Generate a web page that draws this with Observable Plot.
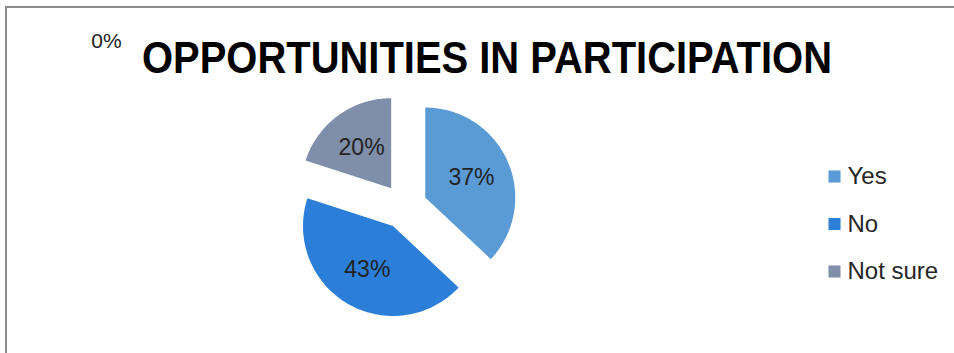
<!DOCTYPE html>
<html>
<head>
<meta charset="utf-8">
<script src="https://cdn.jsdelivr.net/npm/d3@7"></script>
<script src="https://cdn.jsdelivr.net/npm/@observablehq/plot@0.6"></script>
<style>
  html, body { margin: 0; padding: 0; background: #fff; }
  #wrap { position: relative; width: 954px; height: 353px; overflow: hidden; }
  #frame { position: absolute; left: 5px; top: 6px; right: -10px; bottom: -10px;
           border-left: 2px solid #8c8c8c; border-top: 2px solid #8c8c8c; }
  #chart { position: absolute; left: 0; top: 0; }
</style>
</head>
<body>
<div id="wrap"><div id="frame"></div><div id="chart"></div></div>
<script>
// ---- data ----
const categories = ["Yes", "No", "Not sure"];
const values = [37, 43, 20];
const colors = ["#5b9bd5", "#2b7fd8", "#7f8ea9"];
const pctLabels = ["37%", "43%", "20%"];
const titleText = "OPPORTUNITIES IN PARTICIPATION";
const strayLabel = "0%";

// ---- layout ----
const W = 954, H = 353;
const cx = 404, cy = 206, R = 90, explode = 22.6;

const data = categories.map((c, i) => ({key: c, value: values[i], label: pctLabels[i], i}));
const arcs = d3.pie().sort(null).value(d => d.value).startAngle(0).endAngle(2 * Math.PI)(data);

const slicePts = [];
const labelPts = [];
arcs.forEach(a => {
  const mid = (a.startAngle + a.endAngle) / 2;
  const ox = cx + explode * Math.sin(mid), oy = cy - explode * Math.cos(mid);
  slicePts.push({key: a.data.key, x: ox, y: oy});
  const n = 80;
  for (let k = 0; k <= n; k++) {
    const t = a.startAngle + (a.endAngle - a.startAngle) * k / n;
    slicePts.push({key: a.data.key, x: ox + R * Math.sin(t), y: oy - R * Math.cos(t)});
  }
  labelPts.push({label: a.data.label, x: ox + 0.56 * R * Math.sin(mid), y: oy - 0.56 * R * Math.cos(mid)});
});

const legend = data.map((d, i) => ({key: d.key, x: 834, y: 176 + i * 47.5}));

const font = "'Liberation Sans', Arial, sans-serif";
const narrow = "'Liberation Sans Narrow', 'Arial Narrow', 'Liberation Sans', sans-serif";

const plot = Plot.plot({
  width: W, height: H, margin: 0,
  style: {background: "transparent", overflow: "visible"},
  x: {domain: [0, W], range: [0, W], axis: null},
  y: {domain: [0, H], range: [0, H], axis: null},
  color: {domain: categories, range: colors},
  marks: [
    Plot.line(slicePts, {x: "x", y: "y", z: "key", fill: "key", stroke: null, curve: "linear-closed"}),
    Plot.text(labelPts, {x: "x", y: "y", text: "label", fill: "#222", fontSize: 23, fontFamily: font}),
    Plot.dot(legend, {x: "x", y: "y", fill: "key", symbol: "square", r: 6.8, stroke: null}),
    Plot.text(legend, {x: d => d.x + 13, y: "y", text: "key", textAnchor: "start", fill: "#262626", fontSize: 24, fontFamily: font}),
    Plot.text([titleText], {x: () => 486.5, y: () => 58, text: d => d, fill: "#000", fontSize: 44, fontWeight: "bold", fontFamily: narrow, className: "title"}),
    Plot.text([strayLabel], {x: () => 106, y: () => 41, text: d => d, fill: "#222", fontSize: 21, fontFamily: font})
  ]
});
document.getElementById("chart").appendChild(plot);
// stretch title to the reference width
plot.querySelectorAll(".title text").forEach(t => {
  t.setAttribute("textLength", 690);
  t.setAttribute("lengthAdjust", "spacingAndGlyphs");
});
</script>
</body>
</html>
